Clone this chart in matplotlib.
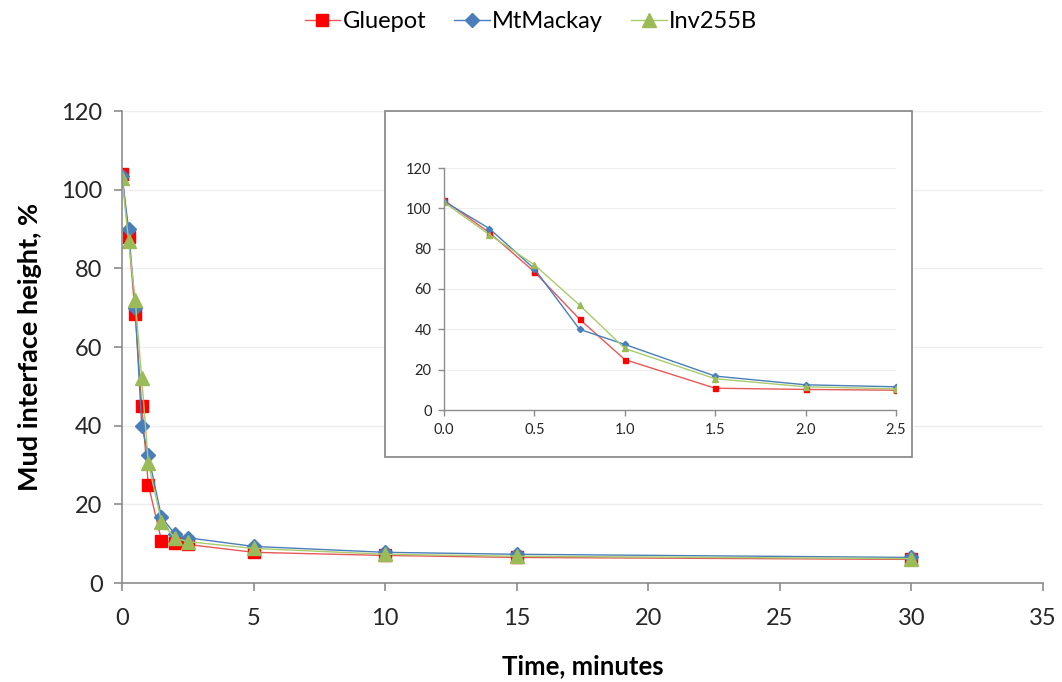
import matplotlib
matplotlib.use("Agg")
import matplotlib.pyplot as plt
from matplotlib.patches import Rectangle

plt.rcParams['font.family'] = ['Lato', 'DejaVu Sans']

# Settling time (minutes) and mud interface height (%)
time_min = [0, 0.25, 0.5, 0.75, 1.0, 1.5, 2.0, 2.5, 5, 10, 15, 30]
gluepot = [104, 88, 68.5, 45, 25, 10.8, 10.2, 9.8, 7.8, 7.0, 6.5, 6.0]
mtmackay = [103.5, 90, 70, 40, 32.5, 16.8, 12.5, 11.5, 9.3, 7.8, 7.3, 6.5]
inv255b = [103, 87, 72, 52, 30.5, 15.5, 11.5, 10.5, 8.8, 7.3, 6.8, 6.2]

series = [
    ("Gluepot", gluepot, "#FF0000", "#E8585A", "s", 8.5, 3.6),
    ("MtMackay", mtmackay, "#4A7EBB", "#4A7EBB", "D", 7.5, 3.2),
    ("Inv255B", inv255b, "#9BBB59", "#A9CC6A", "^", 10, 4.4),
]

inset_max_t = 2.5
main_xticks = [0, 5, 10, 15, 20, 25, 30, 35]
main_yticks = [0, 20, 40, 60, 80, 100, 120]
inset_xticks = [0.0, 0.5, 1.0, 1.5, 2.0, 2.5]
inset_yticks = [0, 20, 40, 60, 80, 100, 120]

W, H = 1062, 682
fig = plt.figure(figsize=(W / 100, H / 100), dpi=100)

def box(x0, y0, x1, y1):
    return [x0 / W, 1 - y1 / H, (x1 - x0) / W, (y1 - y0) / H]

axis_grey = "#8C8C8C"
grid_grey = "#EEEEEE"
text_col = "#262626"

# Main chart
ax = fig.add_axes(box(122, 111, 1043, 583))
handles = []
for name, vals, mcol, lcol, mk, ms, _ in series:
    h, = ax.plot(time_min, vals, color=lcol, lw=1.0, marker=mk, ms=ms,
                 mfc=mcol, mec=mcol, label=name)
    handles.append(h)
ax.set_xlim(0, 35)
ax.set_ylim(0, 120)
ax.set_xticks(main_xticks)
ax.set_yticks(main_yticks)
ax.grid(axis='y', color=grid_grey, lw=1.0)
ax.set_axisbelow(True)
for s in ("top", "right"):
    ax.spines[s].set_visible(False)
for s in ("left", "bottom"):
    ax.spines[s].set_color(axis_grey)
    ax.spines[s].set_linewidth(1.2)
ax.tick_params(direction='out', length=6, width=1.2, color=axis_grey,
               labelsize=17, labelcolor=text_col)
ax.tick_params(axis='x', pad=12)
ax.tick_params(axis='y', pad=8)
ax.set_xlabel("Time, minutes", fontsize=18.5, fontweight='bold', labelpad=18)
ax.set_ylabel("Mud interface height, %", fontsize=19.5, fontweight='bold', labelpad=14)

fig.legend(handles=handles, loc='center', bbox_to_anchor=(0.5, 1 - 22 / H),
           ncol=3, frameon=False, fontsize=17, handlelength=1.5,
           handletextpad=0.1, columnspacing=1.2)

# Inset frame
frame = Rectangle((385 / W, 1 - 457 / H), (912 - 385) / W, (457 - 111) / H,
                  transform=fig.transFigure, facecolor='white',
                  edgecolor="#8C8C8C", lw=1.3, zorder=5)
fig.patches.append(frame)

# Inset: first 2.5 minutes
axi = fig.add_axes(box(444, 168, 896, 410))
axi.set_zorder(6)
axi.patch.set_alpha(0)
n_in = sum(1 for t in time_min if t <= inset_max_t)
for name, vals, mcol, lcol, mk, _, ms in series:
    axi.plot(time_min[:n_in], vals[:n_in], color=lcol, lw=1.0, marker=mk,
             ms=ms, mfc=mcol, mec=mcol)
axi.set_xlim(0, 2.5)
axi.set_ylim(0, 120)
axi.set_xticks(inset_xticks)
axi.set_xticklabels([f"{v:.1f}" for v in inset_xticks])
axi.set_yticks(inset_yticks)
axi.grid(axis='y', color=grid_grey, lw=0.8)
for s in ("top", "right"):
    axi.spines[s].set_visible(False)
for s in ("left", "bottom"):
    axi.spines[s].set_color(axis_grey)
    axi.spines[s].set_linewidth(1.0)
axi.tick_params(direction='out', length=4, width=1.0, color=axis_grey,
                labelsize=10.5, labelcolor=text_col, pad=5)

fig.savefig("out.png", dpi=100)
